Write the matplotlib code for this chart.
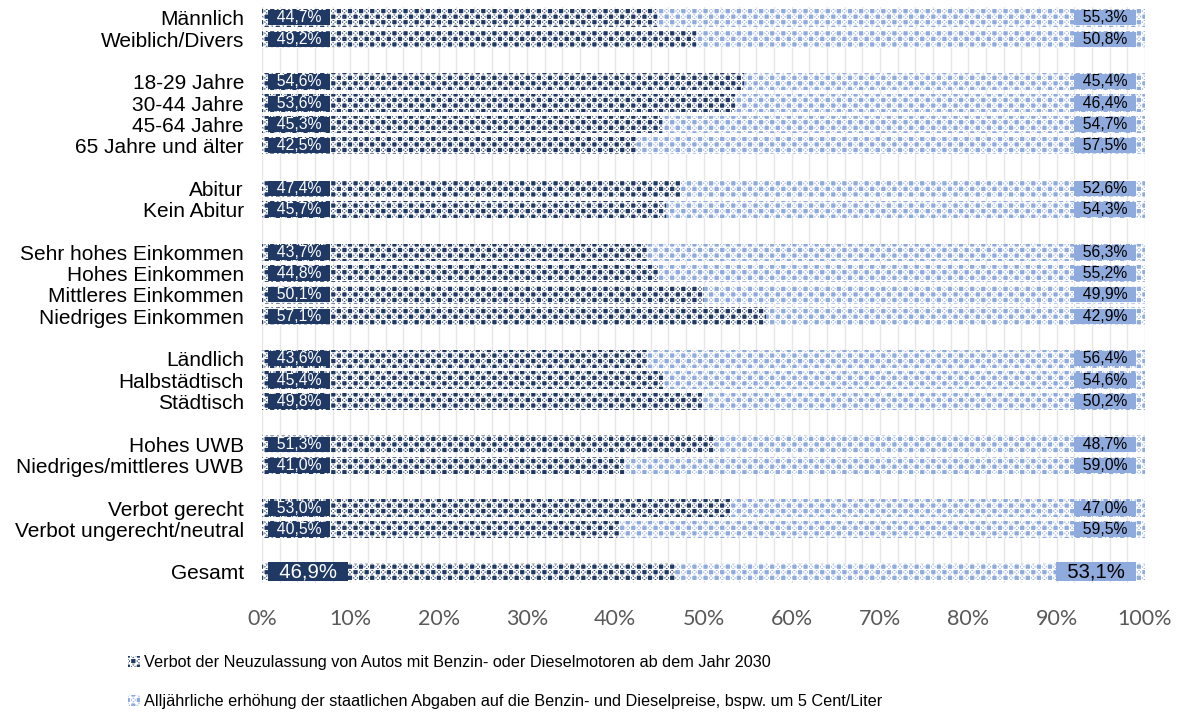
import matplotlib
matplotlib.use('Agg')
import matplotlib.pyplot as plt
from matplotlib.patches import Patch
import numpy as np

plt.rcParams['font.family'] = ['Liberation Sans', 'DejaVu Sans']
plt.rcParams['hatch.linewidth'] = 0.9
plt.rcParams['hatch.color'] = 'white'

# groups of categories, an empty row is left between them
groups = [
    ['Männlich', 'Weiblich/Divers'],
    ['18-29 Jahre', '30-44 Jahre', '45-64 Jahre', '65 Jahre und älter'],
    ['Abitur', 'Kein Abitur'],
    ['Sehr hohes Einkommen', 'Hohes Einkommen', 'Mittleres Einkommen', 'Niedriges Einkommen'],
    ['Ländlich', 'Halbstädtisch', 'Städtisch'],
    ['Hohes UWB', 'Niedriges/mittleres UWB'],
    ['Verbot gerecht', 'Verbot ungerecht/neutral'],
    ['Gesamt'],
]
verbot = [44.7, 49.2,
          54.6, 53.6, 45.3, 42.5,
          47.4, 45.7,
          43.7, 44.8, 50.1, 57.1,
          43.6, 45.4, 49.8,
          51.3, 41.0,
          53.0, 40.5,
          46.9]
abgaben = [55.3, 50.8,
           45.4, 46.4, 54.7, 57.5,
           52.6, 54.3,
           56.3, 55.2, 49.9, 42.9,
           56.4, 54.6, 50.2,
           48.7, 59.0,
           47.0, 59.5,
           53.1]
legend_labels = ['Verbot der Neuzulassung von Autos mit Benzin- oder Dieselmotoren ab dem Jahr 2030',
                 'Alljährliche erhöhung der staatlichen Abgaben auf die Benzin- und Dieselpreise, bspw. um 5 Cent/Liter']

dark = '#1F3864'
light = '#8FAADC'
pattern = '+++xxx'

labels = []
ypos = []
row = 0
for g in groups:
    for name in g:
        labels.append(name)
        ypos.append(row)
        row += 1
    row += 1
ypos = np.array(ypos)
verbot = np.array(verbot)
abgaben = np.array(abgaben)

fig = plt.figure(figsize=(11.78, 7.14), dpi=100)
ax = fig.add_axes([0.2224, 0.184, 0.7496, 0.806])

ax.barh(ypos, verbot, height=0.82, color=dark, hatch=pattern, edgecolor='white', linewidth=0, zorder=2)
ax.barh(ypos, abgaben, left=verbot, height=0.82, color=light, hatch=pattern, edgecolor='white', linewidth=0, zorder=2)

# data labels: dark box at the bar start, light box at the bar end
for i, y in enumerate(ypos):
    fs = 14.6 if labels[i] == 'Gesamt' else 11.3
    t1 = '  ' + f'{verbot[i]:.1f}%'.replace('.', ',') + '  '
    t2 = '  ' + f'{abgaben[i]:.1f}%'.replace('.', ',') + '  '
    ax.text(0.65, y, t1, ha='left', va='center', color='white', fontsize=fs, zorder=3,
            bbox=dict(boxstyle='square,pad=0', fc=dark, ec='none'))
    ax.text(99.0, y, t2, ha='right', va='center', color='black', fontsize=fs, zorder=3,
            bbox=dict(boxstyle='square,pad=0', fc=light, ec='none'))

ax.set_yticks(ypos)
ax.set_yticklabels(labels, fontsize=15)
ax.set_ylim(row - 1.5, -0.5)
ax.set_xlim(0, 100)
ax.set_xticks(np.arange(0, 101, 10))
ax.set_xticks(np.arange(0, 101, 2), minor=True)
ax.set_xticklabels([f'{v}%' for v in range(0, 101, 10)], fontsize=15.5, color='#595959',
                   family=['Lato', 'DejaVu Sans'])
ax.tick_params(axis='both', length=0, which='both')
ax.tick_params(axis='x', pad=19)
ax.tick_params(axis='y', pad=13)
ax.grid(axis='x', which='both', color='#E6E6E6', linewidth=1)
ax.set_axisbelow(True)
for s in ax.spines.values():
    s.set_visible(False)

handles = [Patch(facecolor=dark, hatch=pattern, edgecolor='white', linewidth=0),
           Patch(facecolor=light, hatch=pattern, edgecolor='white', linewidth=0)]
fig.legend(handles, legend_labels, loc='upper left', bbox_to_anchor=(0.109, 0.082),
           frameon=False, fontsize=11.7, handlelength=0.7, handleheight=0.7,
           handletextpad=0.25, labelspacing=1.45, borderpad=0, borderaxespad=0)

fig.savefig('out.png', dpi=100)
